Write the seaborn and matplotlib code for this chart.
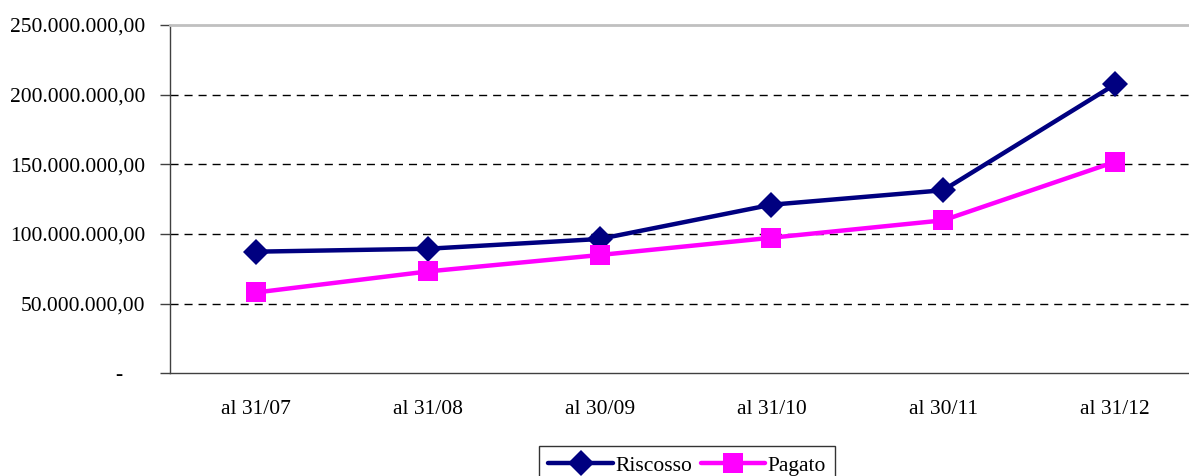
import pandas as pd
import matplotlib
matplotlib.use("Agg")
import matplotlib.pyplot as plt
import seaborn as sns
from matplotlib.lines import Line2D
from matplotlib.ticker import FuncFormatter, MultipleLocator

# chart data
periodi = ["al 31/07", "al 31/08", "al 30/09", "al 31/10", "al 30/11", "al 31/12"]
riscosso = [87300000, 89400000, 96400000, 121000000, 131400000, 207400000]
pagato = [58000000, 73100000, 84900000, 97300000, 109800000, 151800000]

df = pd.DataFrame({
    "periodo": periodi * 2,
    "valore": riscosso + pagato,
    "serie": ["Riscosso"] * len(periodi) + ["Pagato"] * len(periodi),
})

sns.set_style("white")
plt.rcParams["font.family"] = ["Liberation Serif", "DejaVu Serif"]
plt.rcParams["text.color"] = "black"

colori = {"Riscosso": "#000080", "Pagato": "#FF00FF"}
marcatori = {"Riscosso": "D", "Pagato": "s"}
dimensioni = {"Riscosso": 13, "Pagato": 14}

fig = plt.figure(figsize=(11.89, 4.76), dpi=100)
ax = fig.add_axes([170 / 1189, 1 - 373.3 / 476, 1031 / 1189, 348.3 / 476])

for nome in ["Riscosso", "Pagato"]:
    sub = df[df["serie"] == nome]
    sns.lineplot(data=sub, x="periodo", y="valore", ax=ax, color=colori[nome],
                 linewidth=3.2, marker=marcatori[nome], markersize=dimensioni[nome],
                 markeredgewidth=0, sort=False, legend=False)

ax.set_xlim(-0.5, len(periodi) - 0.5)
ax.set_ylim(0, 250000000)
ax.yaxis.set_major_locator(MultipleLocator(50000000))


def fmt(v, pos):
    if v == 0:
        return "-    "
    s = f"{v:,.2f}"
    return s.replace(",", "X").replace(".", ",").replace("X", ".")


ax.yaxis.set_major_formatter(FuncFormatter(fmt))
ax.set_xlabel("")
ax.set_ylabel("")

for v in range(50000000, 250000000, 50000000):
    ax.axhline(v, color="black", linestyle=(0, (5.8, 4.3)), linewidth=1, zorder=0)

ax.spines["top"].set_color("#c0c0c0")
ax.spines["top"].set_linewidth(2)
ax.spines["right"].set_visible(False)
ax.spines["left"].set_color("#404040")
ax.spines["bottom"].set_color("#404040")
ax.spines["left"].set_linewidth(1)
ax.spines["bottom"].set_linewidth(1)

ax.tick_params(axis="y", direction="out", length=7, width=1, color="#404040",
               labelsize=15.5, pad=11, left=True, labelcolor="black")
ax.tick_params(axis="x", length=0, labelsize=15.5, pad=19, labelcolor="black")

handles = [
    Line2D([], [], color=colori[n], lw=3.2, marker=marcatori[n],
           markersize=dimensioni[n], markeredgewidth=0) for n in ["Riscosso", "Pagato"]
]
leg = fig.legend(handles, ["Riscosso", "Pagato"], loc="upper center",
                 bbox_to_anchor=(687 / 1189, 1 - 446 / 476), ncol=2, frameon=True,
                 fancybox=False, edgecolor="black", fontsize=15.5, handlelength=3.0,
                 handletextpad=0.1, columnspacing=0.4, borderpad=0.45,
                 borderaxespad=0)
leg.get_frame().set_linewidth(1)

fig.savefig("out.png", dpi=100)
